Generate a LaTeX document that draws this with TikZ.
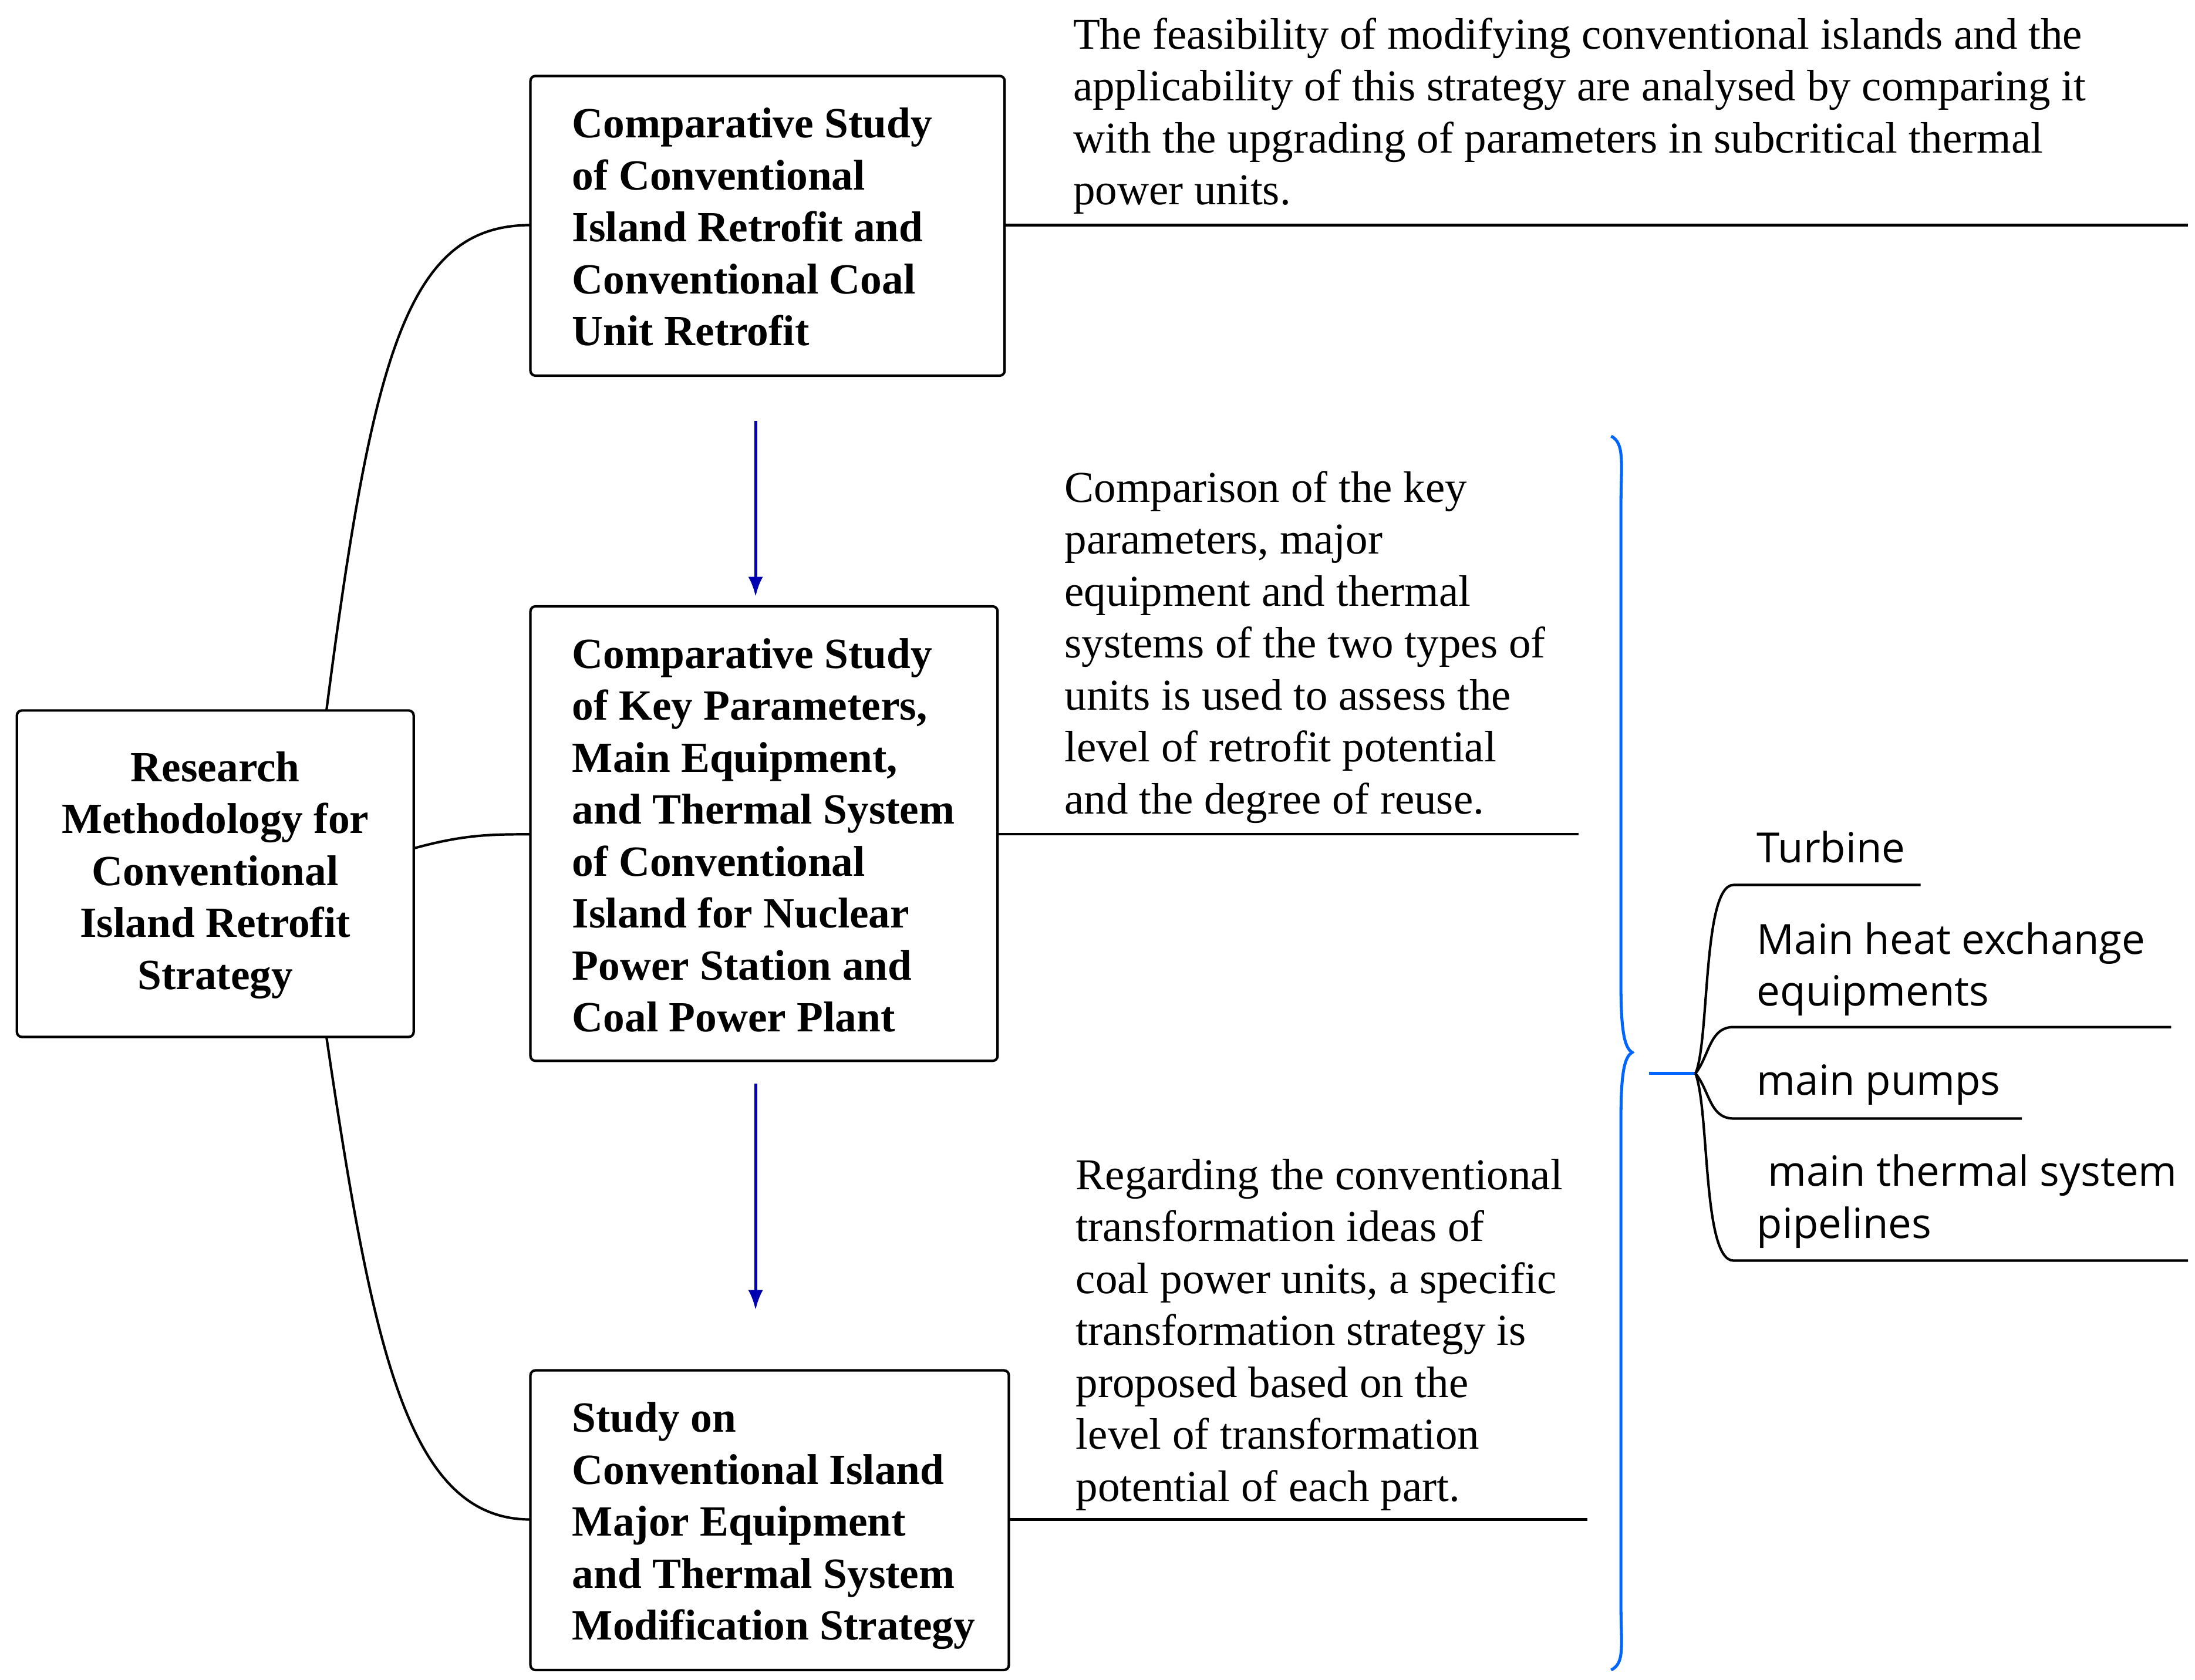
\documentclass[tikz,border=0pt]{standalone}
\usepackage{fontspec}
\setmainfont{Liberation Serif}
\newfontfamily\sansf{Open Sans}
\usetikzlibrary{decorations.pathreplacing,arrows.meta}
\begin{document}
\begin{tikzpicture}[x=0.01cm,y=-0.01cm,
  box/.style={draw,rounded corners=1pt,line width=0.5pt,inner sep=0pt},
  bt/.style={font=\fontsize{8.7}{10.5}\selectfont\bfseries,align=left,anchor=north west,inner sep=0pt},
  dt/.style={font=\fontsize{8.9}{10.5}\selectfont,align=left,anchor=north west,inner sep=0pt},
  st/.style={font=\sansf\fontsize{8.4}{10.5}\selectfont,align=left,anchor=north west,inner sep=0pt},
  ln/.style={line width=0.5pt},
  bl/.style={draw=blue!70!black,line width=0.6pt,-{Latex[length=4pt,width=3pt]}}]
\useasboundingbox (0,0) rectangle (1560,1194);
\draw[box] (12,505) rectangle (294,737);
\node[font=\fontsize{8.7}{10.5}\selectfont\bfseries,align=center] (L) at (153,622) {Research\\Methodology for\\Conventional\\Island Retrofit\\Strategy};
\coordinate (Lt) at (232,505); \coordinate (Lr) at (294,603); \coordinate (Lb) at (232,737);
\draw[box] (377,54) rectangle (714,267); \coordinate (B1l) at (377,160); \coordinate (B1r) at (714,160);
\node[bt] (t1) at (406,76) {Comparative Study\\of Conventional\\Island Retrofit and\\Conventional Coal\\Unit Retrofit};
\draw[box] (377,431) rectangle (709,754); \coordinate (B2l) at (377,593); \coordinate (B2r) at (709,593);
\node[bt] (t2) at (406,453) {Comparative Study\\of Key Parameters,\\Main Equipment,\\and Thermal System\\of Conventional\\Island for Nuclear\\Power Station and\\Coal Power Plant};
\draw[box] (377,974) rectangle (717,1187); \coordinate (B3l) at (377,1080); \coordinate (B3r) at (717,1080);
\node[bt] (t3) at (406,996) {Study on\\Conventional Island\\Major Equipment\\and Thermal System\\Modification Strategy};
\draw[ln] (Lt) .. controls (265,250) and (290,160) .. (B1l);
\draw[ln] (Lr) .. controls (330,593) and (350,593) .. (B2l);
\draw[ln] (Lb) .. controls (265,960) and (290,1080) .. (B3l);
\coordinate (E1) at (1555,160); \coordinate (E2) at (1122,593); \coordinate (E3) at (1128,1080);
\draw[ln] (B1r) -- (E1); \draw[ln] (B2r) -- (E2); \draw[ln] (B3r) -- (E3);
\node[dt] (d1) at (762,12) {The feasibility of modifying conventional islands and the\\applicability of this strategy are analysed by comparing it\\with the upgrading of parameters in subcritical thermal\\power units.};
\node[dt] (d2) at (756,334) {Comparison of the key\\parameters, major\\equipment and thermal\\systems of the two types of\\units is used to assess the\\level of retrofit potential\\and the degree of reuse.};
\node[dt] (d3) at (764,823) {Regarding the conventional\\transformation ideas of\\coal power units, a specific\\transformation strategy is\\proposed based on the\\level of transformation\\potential of each part.};
\coordinate (a1) at (537,299); \coordinate (a1e) at (537,424);
\coordinate (a2) at (537,770); \coordinate (a2e) at (537,931);
\draw[bl] (a1) -- (a1e); \draw[bl] (a2) -- (a2e);
\draw[draw=blue!60!cyan,line width=0.6pt] (1145,310) .. controls (1155,315) and (1152,330) .. (1152,360) -- (1152,700) .. controls (1152,735) and (1155,745) .. (1160,748) .. controls (1155,751) and (1152,760) .. (1152,795) -- (1152,1140) .. controls (1152,1170) and (1155,1182) .. (1145,1187);
\draw[draw=blue!60!cyan,line width=0.6pt] (1172,763) -- (1205,763);
\coordinate (R) at (1205,763);
\coordinate (s1) at (1232,629); \coordinate (s2) at (1232,730); \coordinate (s3) at (1232,795); \coordinate (s4) at (1232,896);
\draw[ln] (R) .. controls (1215,740) and (1210,629) .. (s1) -- (1365,629);
\draw[ln] (R) .. controls (1215,750) and (1215,730) .. (s2) -- (1543,730);
\draw[ln] (R) .. controls (1215,775) and (1215,795) .. (s3) -- (1437,795);
\draw[ln] (R) .. controls (1215,790) and (1210,896) .. (s4) -- (1555,896);
\node[st] (r1) at (1248,590) {Turbine};
\node[st] (r2) at (1248,655) {Main heat exchange\\equipments};
\node[st] (r3) at (1248,756) {main pumps};
\node[st] (r4) at (1248,820) {\ main thermal system\\pipelines};
\end{tikzpicture}
\end{document}
